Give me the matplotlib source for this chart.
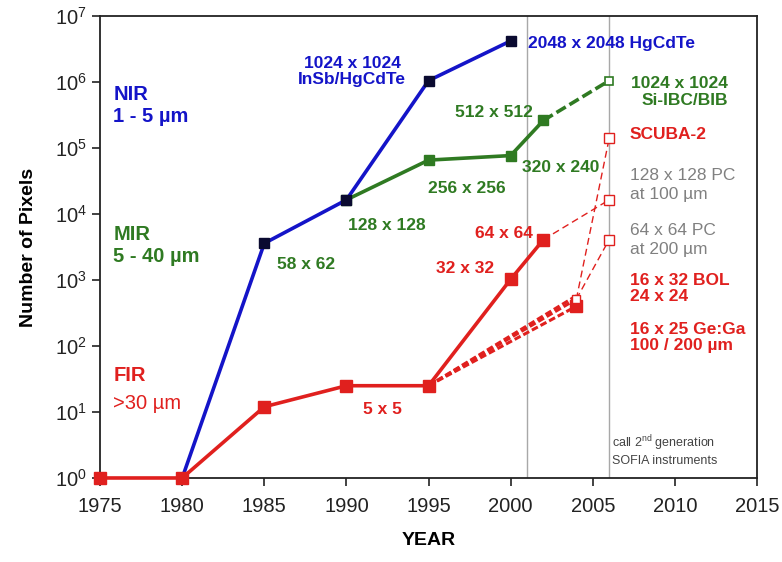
import matplotlib
matplotlib.use('Agg')
import matplotlib.pyplot as plt
from matplotlib import rcParams
from matplotlib.ticker import LogLocator, NullLocator

rcParams['font.family'] = ['Liberation Sans', 'DejaVu Sans']
rcParams['mathtext.default'] = 'regular'

BLUE = '#1414C8'
GREEN = '#2F7A22'
RED = '#E0201E'
GREY = '#808080'

# 数据
nir_years = [1980, 1985, 1990, 1995, 2000]
nir_pix = [1, 3596, 16384, 1048576, 4194304]

mir_years = [1990, 1995, 2000, 2002]
mir_pix = [16384, 65536, 76800, 262144]
mir_plan_years = [2002, 2006]
mir_plan_pix = [262144, 1048576]

fir_years = [1975, 1980, 1985, 1990, 1995, 2000, 2002]
fir_pix = [1, 1, 12, 25, 25, 1024, 4096]

# 1995 -> 2004 计划中的 FIR 阵列
fir_2004_pix = [512, 576, 400]
# 2006 第二代 SOFIA 仪器
sofia_pix = [140000, 16384, 4096]  # SCUBA-2, 128x128 PC, 64x64 PC
# 细虚线连接: (起点年, 起点像素) -> (终点年, 终点像素)
thin_links = [
    (2002, 4096, 2006, 16384),
    (2004, 512, 2006, 140000),
    (2004, 512, 2006, 4096),
]
vlines_years = [2001, 2006]

fig = plt.figure(figsize=(7.82, 5.62), dpi=100)
ax = fig.add_axes([0.128, 0.1495, 0.84, 0.822])

for yr in vlines_years:
    ax.axvline(yr, color='#A8A8A8', linewidth=1.0, zorder=1)

# NIR
ax.plot(nir_years, nir_pix, '-', color=BLUE, linewidth=2.6, zorder=4)
ax.plot(nir_years[1:], nir_pix[1:], 's', color='#0A0A30', markersize=7, zorder=5)

# MIR
ax.plot(mir_years, mir_pix, 's-', color=GREEN, linewidth=2.6, markersize=7, zorder=3)
ax.plot(mir_plan_years, mir_plan_pix, '--', color=GREEN, linewidth=2.6,
        dashes=(3, 1.2), zorder=3)
ax.plot(mir_plan_years[1:], mir_plan_pix[1:], 's', markersize=6,
        markerfacecolor='white', markeredgecolor=GREEN, markeredgewidth=1.2, zorder=5)

# FIR
ax.plot(fir_years, fir_pix, 's-', color=RED, linewidth=2.6, markersize=8,
        zorder=6, clip_on=False)
for p in fir_2004_pix:
    ax.plot([1995, 2004], [25, p], '--', color=RED, linewidth=2.2,
            dashes=(2.2, 1.0), zorder=3)
ax.plot(2004, fir_2004_pix[2], 's', color=RED, markersize=8, zorder=4)
ax.plot(2004, fir_2004_pix[0], 's', markersize=6, markerfacecolor='white',
        markeredgecolor=RED, markeredgewidth=1.0, zorder=5)
for x0, y0, x1, y1 in thin_links:
    ax.plot([x0, x1], [y0, y1], '--', color=RED, linewidth=1.0,
            dashes=(5, 3), zorder=3)
ax.plot([2006] * len(sofia_pix), sofia_pix, 's', markersize=7,
        markerfacecolor='white', markeredgecolor=RED, markeredgewidth=1.0,
        linestyle='none', zorder=5)

ax.set_yscale('log')
ax.set_xlim(1975, 2015)
ax.set_ylim(1, 1e7)
ax.set_xticks(range(1975, 2016, 5))
ax.yaxis.set_major_locator(LogLocator(base=10, numticks=10))
ax.yaxis.set_minor_locator(NullLocator())
ax.tick_params(axis='both', direction='out', length=6, width=1.2,
               labelsize=14.5, colors='#222222')
ax.tick_params(axis='x', pad=8)
for s in ax.spines.values():
    s.set_linewidth(1.3)
    s.set_color('#222222')

ax.set_xlabel('YEAR', fontsize=14, fontweight='bold', labelpad=11)
ax.set_ylabel('Number of Pixels', fontsize=14, fontweight='bold', labelpad=13)

# 波段标注
ax.text(1975.8, 10**5.65, 'NIR\n1 - 5 \u00b5m', color=BLUE, fontsize=14.5,
        fontweight='bold', va='center', ha='left')
ax.text(1975.8, 10**3.52, 'MIR\n5 - 40 \u00b5m', color=GREEN, fontsize=14.5,
        fontweight='bold', va='center', ha='left')
ax.text(1975.8, 10**1.56, 'FIR', color=RED, fontsize=14.5,
        fontweight='bold', va='center', ha='left')
ax.text(1975.8, 10**1.13, '>30 \u00b5m', color=RED, fontsize=14.5,
        va='center', ha='left')

# 数据点标注
lab = dict(fontsize=12.5, fontweight='bold', va='center', ha='left')
ax.text(1985.78, 10**3.23, '58 x 62', color=GREEN, **lab)
ax.text(1990.1, 10**3.83, '128 x 128', color=GREEN, **lab)
ax.text(1994.97, 10**4.38, '256 x 256', color=GREEN, **lab)
ax.text(1996.6, 10**5.545, '512 x 512', color=GREEN, **lab)
ax.text(2000.7, 10**4.70, '320 x 240', color=GREEN, **lab)
ax.text(1990.34, 10**6.16, '1024 x 1024\nInSb/HgCdTe', color=BLUE,
        fontsize=12.5, fontweight='bold', va='center', ha='center',
        linespacing=1.15)
ax.text(2001.05, 10**6.59, '2048 x 2048 HgCdTe', color=BLUE, **lab)
ax.text(1997.83, 10**3.71, '64 x 64', color=RED, **lab)
ax.text(1995.46, 10**3.17, '32 x 32', color=RED, **lab)
ax.text(1991.0, 10**1.045, '5 x 5', color=RED, **lab)

ax.text(2007.33, 10**5.85, '1024 x 1024\nSi-IBC/BIB', color=GREEN,
        fontsize=12.5, fontweight='bold', va='center', ha='left',
        multialignment='right', linespacing=1.2)
ax.text(2007.27, 10**5.20, 'SCUBA-2', color=RED, **lab)
ax.text(2007.27, 10**4.44, '128 x 128 PC\nat 100 \u00b5m', color=GREY,
        fontsize=12.5, va='center', ha='left', linespacing=1.3)
ax.text(2007.27, 10**3.61, '64 x 64 PC\nat 200 \u00b5m', color=GREY,
        fontsize=12.5, va='center', ha='left', linespacing=1.3)
ax.text(2007.27, 10**2.87, '16 x 32 BOL\n24 x 24', color=RED,
        fontsize=12.5, fontweight='bold', va='center', ha='left', linespacing=1.15)
ax.text(2007.27, 10**2.13, '16 x 25 Ge:Ga\n100 / 200 \u00b5m', color=RED,
        fontsize=12.5, fontweight='bold', va='center', ha='left', linespacing=1.15)

ax.text(2006.2, 10**0.42, 'call 2$^{nd}$ generation\nSOFIA instruments',
        color='#444444', fontsize=9, va='center', ha='left', linespacing=1.2)

plt.savefig('out.png', dpi=100, facecolor='white')
plt.close()
